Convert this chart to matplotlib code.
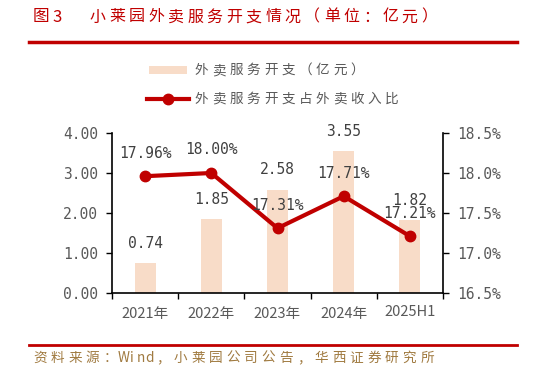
import matplotlib
matplotlib.use("Agg")
import matplotlib.pyplot as plt
from matplotlib.lines import Line2D
from matplotlib.patches import Rectangle

plt.rcParams['font.family'] = ['Noto Sans CJK SC', 'DejaVu Sans']

categories = ["2021年", "2022年", "2023年", "2024年", "2025H1"]
expense = [0.74, 1.85, 2.58, 3.55, 1.82]
ratio = [17.96, 18.00, 17.31, 17.71, 17.21]
left_ticks = [0, 1, 2, 3, 4]
right_ticks = [16.5, 17.0, 17.5, 18.0, 18.5]
legend_labels = ["外卖服务开支（亿元）", "外卖服务开支占外卖收入比"]
title_prefix = ["图", "3"]
title_text = "小莱园外卖服务开支情况（单位：亿元）"
source_text = "资料来源：Wind，小莱园公司公告，华西证券研究所"

W, H = 533, 372
fig = plt.figure(figsize=(W / 100, H / 100), dpi=100)

bar_color = "#F8DCC8"
line_color = "#C00000"
grey = "#595959"
dgrey = "#404040"
numfont = ['DejaVu Sans Mono']


def spaced(x_px, y_px, s, pitch, size, color):
    """Draw string char by char with fixed pitch (half pitch for ASCII)."""
    x = x_px
    for ch in s:
        w = pitch * (0.5 if ord(ch) < 128 else 1.0)
        fig.text((x + w / 2) / W, 1 - y_px / H, ch, ha='center', va='center',
                 fontsize=size, color=color)
        x += w


ax = fig.add_axes([112 / W, 1 - 293 / H, (443 - 112) / W, (293 - 133) / H])
x = list(range(len(categories)))
ax.bar(x, expense, width=0.32, color=bar_color, zorder=1)
ax.set_xlim(-0.5, len(categories) - 0.5)
ax.set_ylim(0, 4)
ax.set_yticks(left_ticks)
ax.set_yticklabels([f"{v:.2f}" for v in left_ticks], color=grey, fontsize=10.5,
                   family=numfont)
ax.set_xticks([i + 0.5 for i in range(len(categories) - 1)] + [-0.5, len(categories) - 0.5])
ax.set_xticklabels([])
ax.tick_params(axis='x', direction='out', length=4, width=1)
ax.tick_params(axis='y', direction='out', length=4, width=1, pad=6)
for i, c in enumerate(categories):
    ax.text(i, -0.36 if i < 4 else -0.3, c, ha='center', va='top', fontsize=10.5, color=grey)
ax.spines['top'].set_visible(False)
ax.spines['right'].set_visible(False)
for s in ['left', 'bottom']:
    ax.spines[s].set_linewidth(1.2)

ax2 = ax.twinx()
ax2.plot(x, ratio, color=line_color, lw=3, marker='o', markersize=7.5, zorder=3)
ax2.set_ylim(16.5, 18.5)
ax2.set_yticks(right_ticks)
ax2.set_yticklabels([f"{v:.1f}%" for v in right_ticks], color=grey, fontsize=10.5,
                    family=numfont)
ax2.tick_params(axis='y', direction='out', length=4, width=1, pad=6)
ax2.spines['top'].set_visible(False)
ax2.spines['left'].set_visible(False)
ax2.spines['bottom'].set_visible(False)
ax2.spines['right'].set_linewidth(1.2)

# bar labels
for i, v in enumerate(expense):
    ax.text(i, v + 0.5, f"{v:.2f}", ha='center', va='center', fontsize=10.5,
            color=dgrey, family=numfont, zorder=5)
# line labels
for i, v in enumerate(ratio):
    ax2.text(i, v + 0.29, f"{v:.2f}%", ha='center', va='center', fontsize=10.5,
             color=dgrey, family=numfont, zorder=5)

# title
spaced(33, 17, title_prefix[0], 16, 12, "#C00000")
spaced(52, 17, title_prefix[1], 20, 12, "#C00000")
spaced(88, 17, title_text, 19.5, 11.5, "#C00000")
fig.add_artist(Line2D([29 / W, 517 / W], [1 - 42 / H, 1 - 42 / H], color="#C00000", lw=2.5))
fig.add_artist(Line2D([29 / W, 517 / W], [1 - 345 / H, 1 - 345 / H], color="#C00000", lw=2))
spaced(31, 358, source_text, 17.6, 9.8, "#A07A40")

# legend
fig.add_artist(Rectangle((149 / W, 1 - 74 / H), 38 / W, 8 / H, facecolor=bar_color,
                         edgecolor='none', transform=fig.transFigure))
fig.add_artist(Line2D([147 / W, 189 / W], [1 - 99 / H, 1 - 99 / H], color=line_color,
                      lw=3, marker=None))
fig.add_artist(Line2D([168 / W], [1 - 99 / H], color=line_color, marker='o',
                      markersize=7.5, lw=0))
spaced(193, 70, legend_labels[0], 17.3, 9.8, grey)
spaced(193, 99, legend_labels[1], 17.3, 9.8, grey)

fig.savefig("out.png", dpi=100)
